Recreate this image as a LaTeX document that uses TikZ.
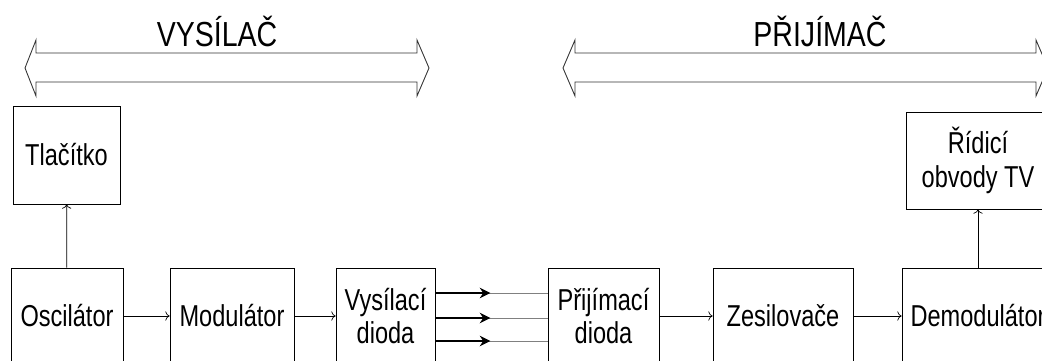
\documentclass[tikz,border=0pt]{standalone}
\usepackage{fontspec}
\setmainfont[FakeStretch=0.78]{Liberation Sans}
\newfontfamily\titlefont[FakeStretch=0.82]{Liberation Sans}
\usetikzlibrary{arrows.meta}

\begin{document}
\begin{tikzpicture}[x=0.02cm,y=-0.02cm]
\tikzstyle{sipka}=[->,thin]
\tikzstyle{paprsek}=[-{Stealth[length=6pt,width=6pt]},line width=1.2pt]
\tikzstyle{obrys}=[draw,line width=0.5pt,black!80]
\tikzset{blok/.style={draw,thin,align=center,inner sep=0pt,
  font=\fontsize{17.2}{19}\selectfont,minimum height=#1},
blok/.default={1.92cm}}
\useasboundingbox (0,0) rectangle (1042,361);
\clip (0,0) rectangle (1042,361);

% dvojite sipky s nadpisy
\draw[obrys] (25,68) -- (36,40) -- (36,53) -- (417,53) -- (417,40) -- (429,68)
  -- (417,96) -- (417,82) -- (36,82) -- (36,96) -- cycle;
\draw[obrys] (563,68) -- (575,40) -- (575,53) -- (1036,53) -- (1036,40) -- (1048,68)
  -- (1036,96) -- (1036,82) -- (575,82) -- (575,96) -- cycle;
\node[anchor=base,font=\titlefont\fontsize{19.8}{22}\selectfont] (V) at (217,47) {VYSÍLAČ};
\node[anchor=base,font=\titlefont\fontsize{19.8}{22}\selectfont] (P) at (820,47) {PŘIJÍMAČ};

% bloky
\node[blok=1.96cm,minimum width=2.14cm] (tlac) at (66.5,155) {Tlačítko};
\node[blok=1.94cm,minimum width=2.88cm] (ridici) at (978,160.5) {Řídicí\\obvody TV};
\node[blok,minimum width=2.24cm] (osc) at (67,316) {Oscilátor};
\node[blok,minimum width=2.48cm] (mod) at (232,316) {Modulátor};
\node[blok,minimum width=1.98cm] (vys) at (385.5,316) {Vysílací\\dioda};
\node[blok,minimum width=2.22cm] (prij) at (603.5,316) {Přijímací\\dioda};
\node[blok,minimum width=2.8cm] (zes) at (783,316) {Zesilovače};
\node[blok,minimum width=3.04cm] (demod) at (978,316) {Demodulátor};

\draw[sipka] (osc) -- (tlac);
\draw[sipka] (osc) -- (mod);
\draw[sipka] (mod) -- (vys);
\draw[sipka] (prij) -- (zes);
\draw[sipka] (zes) -- (demod);
\draw[sipka] (demod) -- (ridici);

% infracervene paprsky
\foreach \dy in {0.46cm,-0.04cm,-0.5cm}{
  \draw[thin,gray] ([yshift=\dy]vys.east) -- ([yshift=\dy]prij.west);
  \draw[paprsek] ([yshift=\dy]vys.east) -- ++(55,0);
}
\end{tikzpicture}
\end{document}
